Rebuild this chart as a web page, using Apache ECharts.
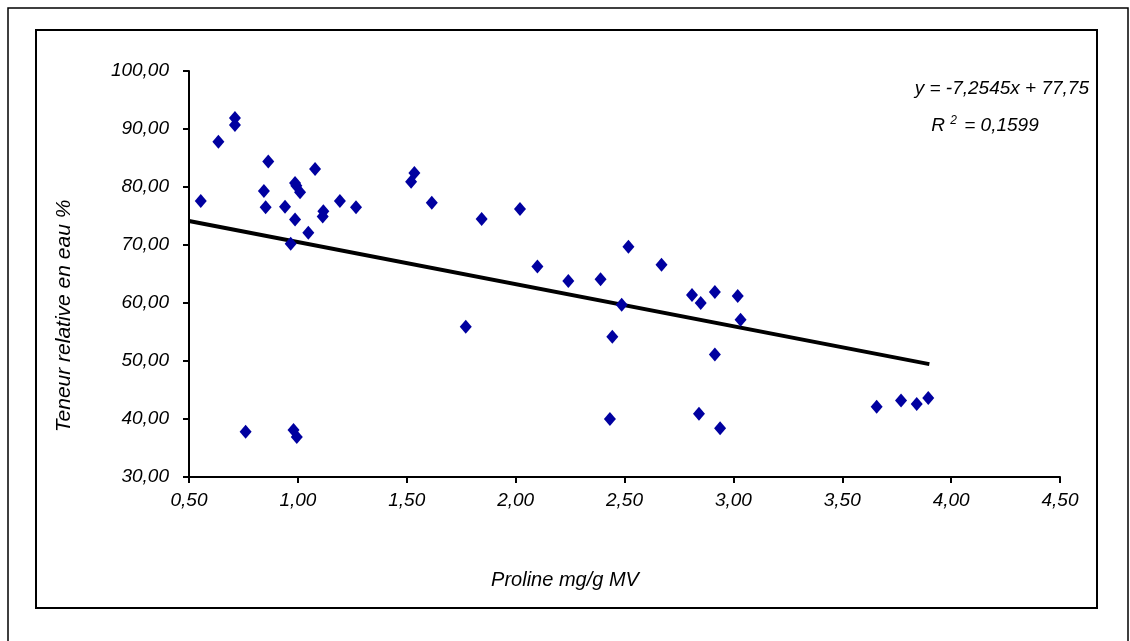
<!DOCTYPE html>
<html>
<head>
<meta charset="utf-8">
<script src="https://cdn.jsdelivr.net/npm/echarts@6/dist/echarts.min.js"></script>
<style>
html,body{margin:0;padding:0;background:#fff;}
#chart{width:1130px;height:641px;}
</style>
</head>
<body>
<div id="chart"></div>
<script>
// Proline (mg/g MV) values
const proline = [0.554,0.635,0.711,0.711,0.864,0.844,0.852,1.079,0.987,0.993,1.010,0.941,0.987,1.048,0.967,1.117,1.114,1.193,1.267,0.760,0.980,0.995,1.535,1.520,1.615,1.844,2.020,2.100,2.242,1.771,2.518,2.670,2.390,2.810,2.850,2.915,3.020,2.487,3.033,2.444,2.915,2.433,2.842,2.939,3.658,3.770,3.842,3.895];
// Teneur relative en eau (%) values
const teneur = [77.6,87.8,91.9,90.7,84.4,79.3,76.5,83.1,80.7,80.2,79.1,76.6,74.4,72.1,70.2,75.8,74.9,77.6,76.5,37.8,38.1,36.9,82.4,80.9,77.3,74.5,76.2,66.3,63.8,55.9,69.7,66.6,64.1,61.4,60.0,61.9,61.2,59.7,57.1,54.2,51.1,40.0,40.9,38.4,42.1,43.2,42.6,43.6];
// Trendline from the equation shown on the chart
const trendSlope = -7.2545;
const trendIntercept = 77.75;
const trendX = [0.5, 3.9];
const equationText = 'y = -7,2545x + 77,75';
const r2Text = '0,1599';
const xTitle = 'Proline mg/g MV';
const yTitle = 'Teneur relative en eau %';

const points = proline.map((x, i) => [x, teneur[i]]);
const trendData = trendX.map(x => [x, trendSlope * x + trendIntercept]);
const fmt = v => v.toFixed(2).replace('.', ',');
const FONT = 'Liberation Sans';

const chart = echarts.init(document.getElementById('chart'), null, {renderer: 'canvas'});
chart.setOption({
  backgroundColor: '#ffffff',
  animation: false,
  grid: {left: 189, top: 71, right: 70, bottom: 164, containLabel: false},
  xAxis: {
    type: 'value', min: 0.5, max: 4.5, interval: 0.5,
    axisLine: {show: true, onZero: false, lineStyle: {color: '#000', width: 2}},
    axisTick: {show: true, length: 6, lineStyle: {color: '#000', width: 2}},
    splitLine: {show: false},
    axisLabel: {formatter: fmt, color: '#000', fontFamily: FONT, fontStyle: 'italic', fontSize: 19, margin: 14}
  },
  yAxis: {
    type: 'value', min: 30, max: 100, interval: 10,
    axisLine: {show: true, onZero: false, lineStyle: {color: '#000', width: 2}},
    axisTick: {show: true, length: 6, lineStyle: {color: '#000', width: 2}},
    splitLine: {show: false},
    axisLabel: {formatter: fmt, color: '#000', fontFamily: FONT, fontStyle: 'italic', fontSize: 19, margin: 20}
  },
  series: [
    {
      type: 'line', data: trendData, showSymbol: false, symbol: 'none',
      lineStyle: {color: '#000', width: 4}, z: 2, silent: true
    },
    {
      type: 'scatter', data: points, symbol: 'diamond', symbolSize: [12, 14],
      itemStyle: {color: '#0000a0', opacity: 1}, z: 3
    }
  ],
  graphic: [
    {type: 'rect', shape: {x: 8, y: 8, width: 1120, height: 640}, style: {fill: 'none', stroke: '#000', lineWidth: 1.5}, z: -10, silent: true},
    {type: 'rect', shape: {x: 36, y: 30, width: 1061, height: 578}, style: {fill: 'none', stroke: '#000', lineWidth: 2}, z: -10, silent: true},
    {type: 'text', x: 1089, y: 89, style: {text: equationText, fill: '#000', font: 'italic 19px "Liberation Sans"', textAlign: 'right', textVerticalAlign: 'middle'}},
    {type: 'text', x: 985, y: 126, style: {
      text: '{r|R }{s|2}{r| = ' + r2Text + '}',
      textAlign: 'center', textVerticalAlign: 'middle',
      rich: {
        r: {fill: '#000', fontFamily: FONT, fontStyle: 'italic', fontSize: 19},
        s: {fill: '#000', fontFamily: FONT, fontStyle: 'italic', fontSize: 12, verticalAlign: 'top', padding: [0, 2, 10, 0]}
      }
    }},
    {type: 'text', x: 565, y: 580, style: {text: xTitle, fill: '#000', font: 'italic 20px "Liberation Sans"', textAlign: 'center', textVerticalAlign: 'middle'}},
    {type: 'text', x: 64, y: 316, rotation: Math.PI / 2, style: {text: yTitle, fill: '#000', font: 'italic 21px "Liberation Sans"', textAlign: 'center', textVerticalAlign: 'middle'}}
  ]
});
</script>
</body>
</html>
